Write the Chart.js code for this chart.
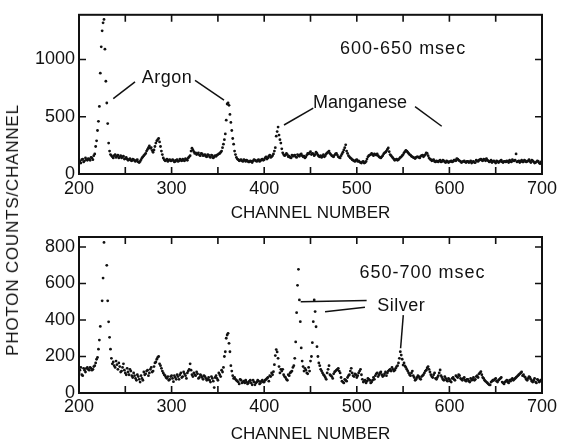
<!DOCTYPE html>
<html><head><meta charset="utf-8">
<script src="https://cdn.jsdelivr.net/npm/chart.js@4.4.1/dist/chart.umd.min.js"></script>
<style>
html,body{margin:0;padding:0;background:#fff;}
#wrap{position:relative;width:564px;height:444px;overflow:hidden;background:#fff;}
#c1,#c2{position:absolute;left:0;}
#c1{top:0;} #c2{top:222px;}
#ytitle{position:absolute;left:13px;top:230px;transform:translate(-50%,-50%) rotate(-90deg);font:17px "Liberation Sans",Arial,sans-serif;letter-spacing:0.8px;white-space:nowrap;color:#111;}
</style></head><body>
<div id="wrap">
<canvas id="c1" width="564" height="222" style="width:564px;height:222px"></canvas>
<canvas id="c2" width="564" height="222" style="width:564px;height:222px"></canvas>
<div id="ytitle">PHOTON COUNTS/CHANNEL</div>
</div>
<script>
// ---- axis / tick labels ----
const xTickLabels = [200, 300, 400, 500, 600, 700];
const xInnerTicks = [250, 300, 350, 400, 450, 500, 550, 600, 650];
const topYTicks = [0, 500, 1000];
const bottomYTicks = [0, 200, 400, 600, 800];
const topYMax = 1390;
const bottomYMax = 855;

// ---- data: channel grids (even channels 200..700, odd channels 201..699) ----
const evenStart = 200, oddStart = 201, channelStep = 2;

// 600-650 msec, even channels (null where the peak lists take over)
const topCountsEven = [
  120,95,130,115,125,135,120,140,160,null,
  null,null,null,null,null,null,null,null,150,160,
  145,165,150,140,155,135,130,125,120,130,
  115,120,105,110,140,160,180,215,245,230,
  190,240,290,310,240,170,125,120,110,125,
  115,120,110,125,115,120,130,115,125,140,
  160,225,195,185,175,165,180,160,170,150,
  165,145,160,150,155,170,180,null,null,null,
  null,null,null,null,null,null,125,120,115,125,
  110,115,105,110,115,120,110,125,115,130,
  125,150,140,165,150,null,null,null,null,null,
  null,null,180,150,145,165,160,150,170,155,
  175,150,140,165,175,195,180,160,190,165,
  150,145,170,160,185,200,170,155,165,180,
  150,140,175,210,255,180,150,135,120,110,
  125,115,100,105,95,110,150,165,180,160,
  170,175,150,140,160,185,200,228,170,150,
  130,125,120,135,150,170,195,200,180,165,
  150,140,145,150,140,160,150,170,180,140,
  125,120,110,115,105,120,110,115,100,110,
  105,115,110,120,135,120,110,105,115,100,
  110,105,95,110,100,115,120,130,115,125,
  135,115,110,100,115,95,110,105,120,100,
  110,115,100,110,125,115,175,110,100,120,
  105,115,110,125,100,115,95,105,110,90,
  100
];
// 600-650 msec, odd channels
const topCountsOdd = [
  110,125,105,140,120,130,145,125,175,null,
  null,null,null,null,null,null,null,160,140,170,
  155,140,160,150,130,145,120,135,115,125,
  110,125,100,125,150,170,200,230,225,205,
  210,270,300,280,200,140,115,130,120,115,
  125,105,120,110,130,115,120,135,120,150,
  200,210,180,170,185,160,175,165,155,170,
  150,165,140,160,165,175,190,null,null,null,
  null,null,null,null,null,130,115,125,110,120,
  120,105,115,100,125,115,120,110,125,120,
  140,130,155,145,160,null,null,null,null,null,
  null,165,170,155,140,155,165,145,160,170,
  160,155,150,180,185,170,175,170,180,155,
  160,155,150,175,190,180,160,150,175,165,
  145,160,190,230,200,160,140,125,115,120,
  110,105,95,110,100,130,160,170,170,175,
  165,160,145,150,175,190,215,195,160,140,
  120,130,125,145,160,185,205,190,170,155,
  145,135,150,145,155,165,160,185,160,130,
  115,125,105,110,115,105,120,105,115,100,
  110,105,120,115,130,115,100,110,105,110,
  100,115,105,100,120,110,125,120,130,115,
  120,105,120,110,105,115,100,115,105,110,
  105,110,120,105,115,120,105,115,110,105,
  120,105,115,110,120,105,100,115,95,105
];
// peaks, every channel
const topArgon1Channels = [218,219,220,221,222,223,224,225,226,227,228,229,230,231,232,233,234];
const topArgon1Counts   = [240,290,380,460,590,880,1110,1250,1320,1350,1090,810,620,440,270,200,170];
const topArgon2Channels = [354,355,356,357,358,359,360,361,362,363,364,365,366,367,368,369,370];
const topArgon2Counts   = [200,230,260,300,350,470,611,620,600,520,450,380,310,260,200,170,145];
const topMnChannels     = [410,411,412,413,414,415,416,417,418,419,420,421,422];
const topMnCounts       = [175,200,230,330,370,410,340,300,270,220,185,170,160];

// 650-700 msec, even channels
const bottomCountsEven = [
  110,140,95,125,135,130,140,125,145,165,
  null,null,null,null,null,null,null,null,160,150,
  175,130,145,120,160,110,135,100,120,85,
  95,70,90,60,80,115,105,125,110,140,
  120,165,185,200,150,120,100,85,90,75,
  95,62,85,100,75,110,90,105,80,120,
  160,100,110,95,105,85,95,75,90,70,
  85,60,80,30,95,70,100,125,null,null,
  null,null,null,null,85,70,60,75,55,65,
  70,50,65,55,70,45,60,65,55,70,
  60,75,85,95,110,null,null,null,null,null,
  130,90,75,100,110,120,null,null,null,null,
  null,null,null,110,null,null,null,null,null,null,
  null,null,100,85,110,150,95,80,115,125,
  135,110,65,55,70,85,100,135,95,105,
  85,110,130,75,65,55,80,70,60,85,
  95,110,100,115,90,105,95,120,130,140,
  120,135,150,null,null,null,null,130,110,95,
  120,85,75,95,80,90,100,120,137,130,
  100,85,110,75,95,126,85,70,80,65,
  75,60,85,70,90,100,80,70,85,65,
  75,60,70,85,75,95,105,117,85,70,
  60,50,44,65,70,80,60,75,85,55,
  60,70,55,65,80,75,85,95,105,115,
  100,85,70,90,75,60,80,55,70,65,
  75
];
// 650-700 msec, odd channels
const bottomCountsOdd = [
  125,100,135,115,140,125,135,130,150,185,
  null,null,null,null,null,null,null,null,170,140,
  155,165,115,140,125,100,115,130,95,110,
  80,100,75,95,70,100,120,95,130,115,
  145,170,195,160,135,110,95,80,70,90,
  80,95,75,90,100,85,115,95,110,130,
  125,90,100,115,80,100,85,95,80,75,
  70,90,65,85,80,110,90,115,null,null,
  null,null,120,80,75,65,50,70,60,55,
  60,55,70,45,60,55,70,50,65,60,
  70,80,65,90,100,null,null,null,null,120,
  100,85,70,95,115,140,null,null,null,null,
  null,null,125,105,null,null,null,null,null,null,
  null,110,95,75,130,100,90,105,120,130,
  120,85,60,75,65,95,120,110,90,100,
  95,120,100,60,70,65,75,55,70,75,
  105,90,110,100,95,115,110,125,120,130,
  125,145,165,null,null,null,140,120,100,110,
  95,70,85,90,75,95,110,125,145,115,
  90,100,80,85,110,95,75,90,70,80,
  65,80,75,95,85,95,75,80,70,75,
  65,80,75,70,90,85,110,100,80,65,
  55,45,60,70,75,65,70,80,60,50,
  65,60,70,75,70,80,90,100,110,95,
  90,75,80,85,65,70,60,75,60,70
];
const bottomArgon1Channels = [220,221,222,223,225,226,227,230,231,232,233,234,235];
const bottomArgon1Counts   = [195,240,290,365,505,630,825,700,505,390,305,240,190];
const bottomArgon2Channels = [356,357,358,359,360,361,362,363,364,366];
const bottomArgon2Counts   = [140,200,226,300,318,327,272,226,150,95];
const bottomMnChannels     = [410,411,412,413,414,415,416,417,418];
const bottomMnCounts       = [117,155,205,238,225,190,145,110,130];
const silver1Channels = [432,433,434,435,436,437,438,439,440,441,442,443,444];
const silver1Counts   = [150,190,280,440,590,678,510,391,247,175,145,120,135];
const silver2Channels = [448,449,450,451,452,453,454,455,456,457,458,459,460,461,462];
const silver2Counts   = [140,120,175,200,276,391,510,446,363,254,200,165,150,130,120];
const silver3Channels = [546,547,548,549,550,551,552];
const silver3Counts   = [190,226,208,185,153,165,148];

// ---- helpers ----
function gridPoints(counts, start){
  const pts = [];
  counts.forEach((v,i)=>{ if(v!==null) pts.push({x: start + i*channelStep, y: v}); });
  return pts;
}
function pairPoints(chs, counts){ return chs.map((c,i)=>({x:c, y:counts[i]})); }

const FONT = '"Liberation Sans", Arial, sans-serif';
const INK = '#111';

function framePlugin(yTicks){
  return {
    id:'frame',
    afterDraw(chart){
      const {ctx, chartArea:a, scales:{x,y}} = chart;
      ctx.save();
      ctx.strokeStyle = INK;
      ctx.lineWidth = 2;
      ctx.strokeRect(a.left, a.top, a.right-a.left, a.bottom-a.top);
      ctx.lineWidth = 1.6;
      const L = 7;
      ctx.beginPath();
      xInnerTicks.forEach(v=>{
        const px = x.getPixelForValue(v);
        ctx.moveTo(px, a.bottom); ctx.lineTo(px, a.bottom-L);
        ctx.moveTo(px, a.top); ctx.lineTo(px, a.top+L);
      });
      yTicks.forEach(v=>{
        if (v===0) return;
        const py = y.getPixelForValue(v);
        ctx.moveTo(a.left, py); ctx.lineTo(a.left+L, py);
        ctx.moveTo(a.right, py); ctx.lineTo(a.right-L, py);
      });
      ctx.stroke();
      ctx.restore();
    }
  };
}
function notesPlugin(notes){
  return {
    id:'notes',
    afterDatasetsDraw(chart){
      const {ctx, scales:{x,y}} = chart;
      ctx.save();
      ctx.strokeStyle = INK; ctx.fillStyle = INK; ctx.lineWidth = 1.5;
      notes.lines.forEach(l=>{
        ctx.beginPath();
        ctx.moveTo(x.getPixelForValue(l[0]), y.getPixelForValue(l[1]));
        ctx.lineTo(x.getPixelForValue(l[2]), y.getPixelForValue(l[3]));
        ctx.stroke();
      });
      ctx.textAlign = 'center'; ctx.textBaseline = 'middle';
      notes.labels.forEach(t=>{
        ctx.font = t.size + 'px ' + FONT;
        ctx.letterSpacing = (t.spacing || 0) + 'px';
        ctx.fillText(t.text, x.getPixelForValue(t.x), y.getPixelForValue(t.y));
      });
      ctx.restore();
    }
  };
}

function makeChart(id, datasets, yMax, yTicks, notes, lay){
  return new Chart(document.getElementById(id), {
    type:'scatter',
    data:{datasets: datasets.map(d=>({data:d, pointRadius:1.4, pointHoverRadius:1.4, pointBackgroundColor:INK, pointBorderWidth:0, showLine:false}))},
    options:{
      responsive:false, animation:false, devicePixelRatio:1,
      layout:{padding:{top:lay.top, right:22, bottom:0, left:0}},
      plugins:{legend:{display:false}, tooltip:{enabled:false}},
      events:[],
      scales:{
        x:{type:'linear', min:200, max:700,
           afterBuildTicks:s=>{ s.ticks = xTickLabels.map(v=>({value:v})); },
           afterFit:s=>{ s.height = lay.xh; },
           grid:{display:false, drawTicks:false}, border:{display:false},
           ticks:{padding:lay.xpad, color:INK, font:{family:FONT, size:18}, maxRotation:0, autoSkip:false, callback:v=>String(v)},
           title:{display:true, text:'CHANNEL NUMBER', color:INK, font:{family:FONT, size:17}, padding:{top:0, bottom:lay.tpad}}
        },
        y:{type:'linear', min:0, max:yMax,
           afterBuildTicks:s=>{ s.ticks = yTicks.map(v=>({value:v})); },
           afterFit:s=>{ s.width = 79; },
           grid:{display:false, drawTicks:false}, border:{display:false},
           ticks:{padding:4, color:INK, font:{family:FONT, size:18}, callback:v=>String(v)}
        }
      }
    },
    plugins:[framePlugin(yTicks), notesPlugin(notes)]
  });
}

makeChart('c1', [
  gridPoints(topCountsEven, evenStart),
  gridPoints(topCountsOdd, oddStart),
  pairPoints(topArgon1Channels, topArgon1Counts),
  pairPoints(topArgon2Channels, topArgon2Counts),
  pairPoints(topMnChannels, topMnCounts)
], topYMax, topYTicks, {
  labels:[
    {text:'600-650 msec', x:550, y:1092, size:18, spacing:1},
    {text:'Argon', x:295, y:842, size:18, spacing:0.5},
    {text:'Manganese', x:503.5, y:617, size:18, spacing:0}
  ],
  lines:[
    [260.5,805,237,658],
    [325.3,817,356.6,644],
    [453,575,421.4,428],
    [562.9,589,591.7,417]
  ]
}, {top:7, xh:48, xpad:4, tpad:-2});

makeChart('c2', [
  gridPoints(bottomCountsEven, evenStart),
  gridPoints(bottomCountsOdd, oddStart),
  pairPoints(bottomArgon1Channels, bottomArgon1Counts),
  pairPoints(bottomArgon2Channels, bottomArgon2Counts),
  pairPoints(bottomMnChannels, bottomMnCounts),
  pairPoints(silver1Channels, silver1Counts),
  pairPoints(silver2Channels, silver2Counts),
  pairPoints(silver3Channels, silver3Counts)
], bottomYMax, bottomYTicks, {
  labels:[
    {text:'650-700 msec', x:571, y:659, size:18, spacing:1},
    {text:'Silver', x:548, y:477, size:18, spacing:0.5}
  ],
  lines:[
    [439.4,500,510.6,507],
    [465.7,445,508.8,470],
    [550.2,427,547.3,245]
  ]
}, {top:15, xh:51, xpad:3, tpad:-1});
</script>
</body></html>
